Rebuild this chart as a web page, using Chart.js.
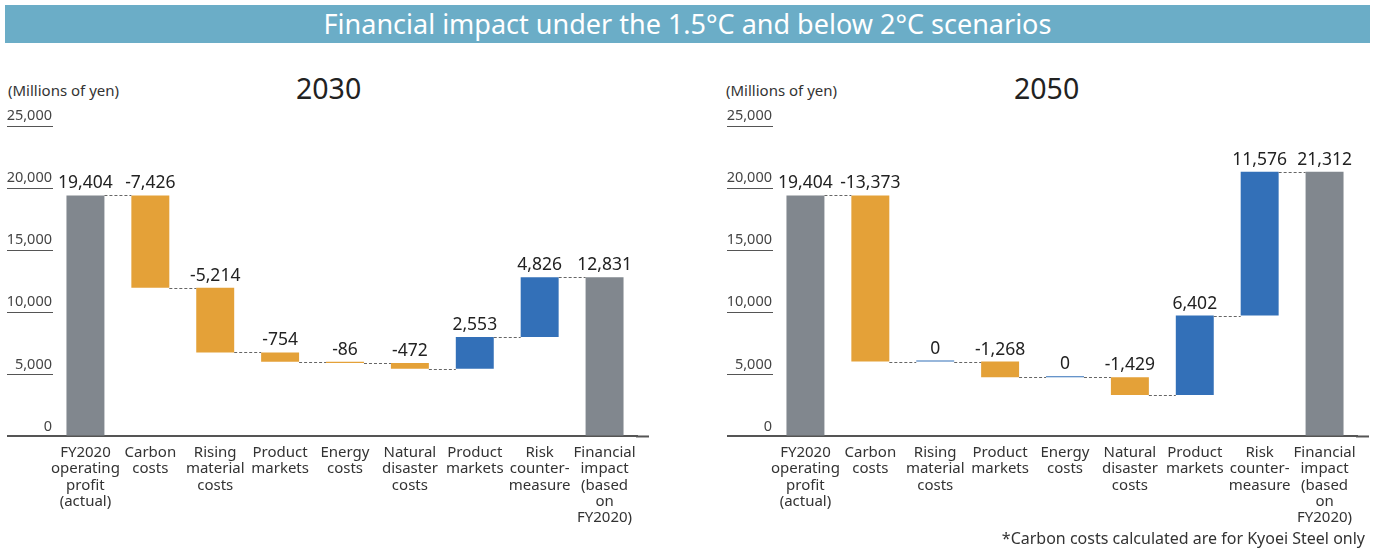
<!DOCTYPE html>
<html>
<head>
<meta charset="utf-8">
<script src="https://cdn.jsdelivr.net/npm/chart.js@4.4.0/dist/chart.umd.min.js"></script>
<style>
  body{ margin:0; width:1381px; height:549px; background:#fff; font-family:"Noto Sans", sans-serif; color:#333; position:relative; overflow:hidden; }
  .banner{ position:absolute; left:5px; top:5px; width:1365px; height:38px; background:#6badc7; color:#fff; font-size:27px; line-height:38px; text-align:center; }
  .unit{ position:absolute; top:80px; font-size:15px; color:#333; }
  .year{ position:absolute; top:69px; font-size:28.5px; color:#222; }
  .box{ position:absolute; top:95px; width:660px; height:449px; }
  .note{ position:absolute; right:16px; top:527px; font-size:16px; color:#333; }
</style>
</head>
<body>
<div class="banner">Financial impact under the 1.5°C and below 2°C scenarios</div>
<div class="unit" style="left:8px">(Millions of yen)</div>
<div class="year" style="left:296px">2030</div>
<div class="unit" style="left:726px">(Millions of yen)</div>
<div class="year" style="left:1014px">2050</div>
<div class="box" style="left:0px"><canvas id="chart2030"></canvas></div>
<div class="box" style="left:720px"><canvas id="chart2050"></canvas></div>
<div class="note">*Carbon costs calculated are for Kyoei Steel only</div>
<script>
const categories = [
  ['FY2020','operating','profit','(actual)'],
  ['Carbon','costs'],
  ['Rising','material','costs'],
  ['Product','markets'],
  ['Energy','costs'],
  ['Natural','disaster','costs'],
  ['Product','markets'],
  ['Risk','counter-','measure'],
  ['Financial','impact','(based','on','FY2020)']
];
const baseProfit = 19404;
const changes2030 = [-7426, -5214, -754, -86, -472, 2553, 4826];
const result2030 = 12831;
const changes2050 = [-13373, 0, -1268, 0, -1429, 6402, 11576];
const result2050 = 21312;
const yMax = 25000;
const yStep = 5000;

const GRAY = '#81878e', ORANGE = '#e4a138', BLUE = '#3370b8';
const FONT = '"Noto Sans", sans-serif';

function fmt(v){ return v.toLocaleString('en-US'); }

// build floating ranges for a waterfall
function buildRanges(start, changes, end){
  const ranges = [[0, start]];
  let level = start;
  changes.forEach(c=>{ ranges.push([level, level + c]); level += c; });
  ranges.push([0, end]);
  return ranges;
}

// labels above bars + dashed connectors
const waterfallPlugin = {
  id:'waterfall',
  afterDatasetsDraw(chart){
    const ctx = chart.ctx;
    const meta = chart.getDatasetMeta(0);
    const ys = chart.scales.y;
    const ranges = chart.data.datasets[0].data;
    const texts = chart.data.datasets[0].valueLabels;
    ctx.save();
    // baseline runs a little past the last bar
    const y0 = ys.getPixelForValue(0);
    ctx.strokeStyle = '#555';
    ctx.lineWidth = 2;
    ctx.beginPath();
    ctx.moveTo(chart.chartArea.right - 1, y0);
    ctx.lineTo(chart.chartArea.right + 12, y0);
    ctx.stroke();
    // connectors
    ctx.strokeStyle = '#666';
    ctx.lineWidth = 1;
    ctx.setLineDash([3,2]);
    for(let i=0;i<meta.data.length-1;i++){
      const a = meta.data[i], b = meta.data[i+1];
      const y = Math.round(ys.getPixelForValue(ranges[i][1])) + 0.5;
      ctx.beginPath();
      ctx.moveTo(a.x + a.width/2, y);
      ctx.lineTo(b.x - b.width/2, y);
      ctx.stroke();
    }
    ctx.setLineDash([]);
    // value labels
    ctx.fillStyle = '#222';
    ctx.font = '17.5px ' + FONT;
    ctx.textAlign = 'center';
    ctx.textBaseline = 'middle';
    meta.data.forEach((el,i)=>{
      const top = Math.min(el.y, el.base);
      ctx.fillText(texts[i], el.x, top - 12);
    });
    ctx.restore();
  }
};

function makeChart(id, changes, result){
  const ranges = buildRanges(baseProfit, changes, result);
  const values = [baseProfit].concat(changes, [result]);
  const colors = values.map((v,i)=>{
    if(i===0 || i===values.length-1) return GRAY;
    return v < 0 ? ORANGE : BLUE;
  });
  return new Chart(document.getElementById(id).getContext('2d'),{
    type:'bar',
    data:{ labels: categories, datasets:[{
      data: ranges,
      valueLabels: values.map(fmt),
      backgroundColor: colors,
      borderColor: colors,
      borderWidth: 0,
      minBarLength: 1,
      borderSkipped: false,
      barPercentage: 0.585,
      categoryPercentage: 1
    }]},
    options:{
      responsive:true, maintainAspectRatio:false, animation:false,
      layout:{ padding:{ top:31, left:7, right:23, bottom:10 } },
      plugins:{ legend:{display:false}, tooltip:{enabled:false} },
      scales:{
        x:{
          grid:{ display:true, drawOnChartArea:false, drawTicks:false },
          border:{ display:true, color:'#555', width:2 },
          ticks:{ color:'#333', padding:8, maxRotation:0, autoSkip:false,
                  font:{ family:FONT, size:15, lineHeight:1.087 } }
        },
        y:{
          min:0, max:yMax,
          border:{ display:false },
          grid:{ drawOnChartArea:false, drawTicks:true, tickLength:46, color:'#555',
                 lineWidth: c => c.tick && c.tick.value===0 ? 2 : 1 },
          ticks:{ stepSize:yStep, labelOffset:-10, padding:-45, color:'#444',
                  font:{ family:FONT, size:14.5 } },
          afterFit(s){ s.width = 46; }
        }
      }
    },
    plugins:[waterfallPlugin]
  });
}

makeChart('chart2030', changes2030, result2030);
makeChart('chart2050', changes2050, result2050);
</script>
</body>
</html>
